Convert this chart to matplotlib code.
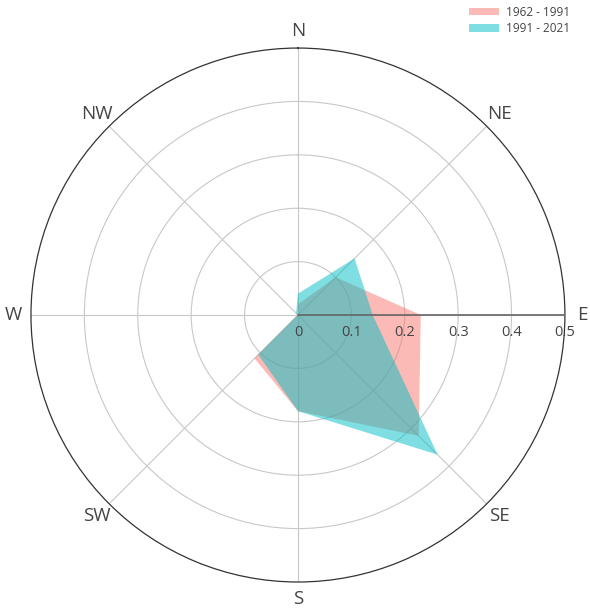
import matplotlib.pyplot as plt
from matplotlib.patches import Patch
import numpy as np

# wind directions and relative frequencies
directions = ['N', 'NE', 'E', 'SE', 'S', 'SW', 'W', 'NW']
period_old = [0.02, 0.10, 0.23, 0.32, 0.18, 0.115, 0.0, 0.0]
period_new = [0.04, 0.15, 0.14, 0.37, 0.18, 0.105, 0.0, 0.005]
labels = ['1962 - 1991', '1991 - 2021']
colors = ['#F8766D', '#00BFC4']
rticks = [0, 0.1, 0.2, 0.3, 0.4, 0.5]

plt.rcParams['font.family'] = ['Open Sans', 'DejaVu Sans']

fig = plt.figure(figsize=(5.9, 6.12), dpi=100)
ax = fig.add_axes([0.0525, 0.049, 0.905, 0.8725], projection='polar')
ax.set_theta_zero_location('N')
ax.set_theta_direction(-1)

theta = np.deg2rad(np.arange(len(directions)) * 45)
th_closed = np.append(theta, theta[0])
for vals, c in zip([period_old, period_new], colors):
    v = np.append(vals, vals[0])
    ax.fill(th_closed, v, color=c, alpha=0.5, lw=0, zorder=3)

ax.set_ylim(0, 0.5)
ax.set_yticks(rticks[1:-1])
ax.set_yticklabels([])
ax.set_xticks(theta)
ax.set_xticklabels(directions, fontsize=13.5, color='#444444')
ax.tick_params(axis='x', pad=2)
ax.grid(True, color='#c8c8c8', lw=0.8)
ax.spines['polar'].set_color('#333333')
ax.spines['polar'].set_linewidth(0.9)

# radial axis line along E
ax.plot([np.pi / 2, np.pi / 2], [0, 0.5], color='#666666', lw=1.2, zorder=4)
for r in rticks:
    ax.annotate(str(r), xy=(np.pi / 2, r), xytext=(0, -7), textcoords='offset points',
                ha='center', va='top', fontsize=10.5, color='#444444', zorder=5)

handles = [Patch(facecolor=c, alpha=0.5, edgecolor='none') for c in colors]
fig.legend(handles, labels, loc='upper right', bbox_to_anchor=(0.985, 1.008),
           frameon=False, fontsize=8.5, handlelength=2.6, handleheight=0.6,
           handletextpad=0.6, labelcolor='#444444', labelspacing=0.3)

fig.savefig('out.png', dpi=100)
